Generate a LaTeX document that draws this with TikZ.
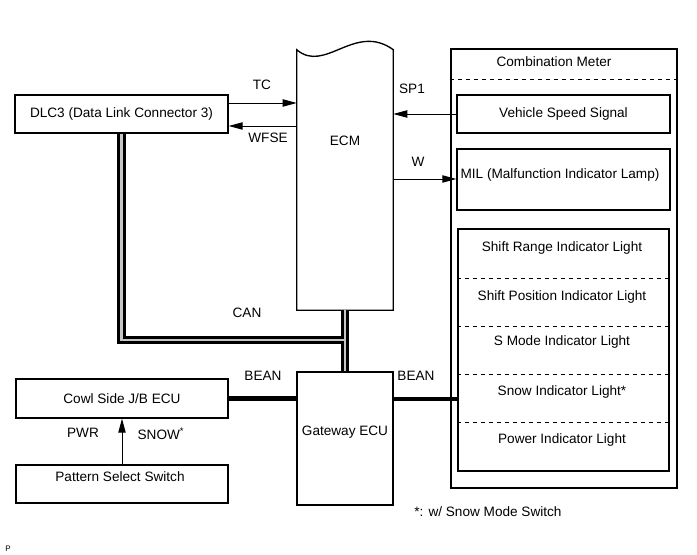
\documentclass[tikz,border=0pt]{standalone}
\usepackage{fontspec}
\setmainfont{Liberation Sans}
\usetikzlibrary{arrows.meta}

\def\px{0.75pt}
\tikzset{
  area/.style 2 args={minimum width=#1*\px, minimum height=#2*\px, inner sep=0pt},
  box/.style 2 args={area={#1}{#2}, draw, line width=1pt},
  sig/.style={line width=0.7pt, -{Triangle[length=10.5pt,width=5.5pt]}},
  bean/.style={line width=3.6pt},
  canout/.style={line width=6.5pt},
  canin/.style={line width=1.8pt, gray!45},
  sep/.style={dashed, line width=0.6pt},
}

\begin{document}
\begin{tikzpicture}[x=0.75pt, y=-0.75pt, font=\fontsize{10.2}{12}\selectfont]
  \useasboundingbox (0,0) rectangle (697,555);
  % left side
  \node[box={213}{38}] (dlc) at (121.5,114) {DLC3 (Data Link Connector 3)};
  \node[box={212}{39}] (cowl) at (122,398.5) {Cowl Side J/B ECU};
  \node[box={212}{38}] (pss) at (122,484) {};
  \node (psstxt) at (120,477) {Pattern Select Switch};
  % ECM and gateway
  \node[area={96}{260}] (ecm) at (345,180) {};
  \draw[line width=1pt] (ecm.south west) -- (ecm.north west)
    .. controls (325,74) and (355,22) .. (ecm.north east) -- (ecm.south east) -- cycle;
  \node (ecmtxt) at (345,141) {ECM};
  \node[box={96}{133}] (gw) at (345,438.5) {};
  \node (gwtxt) at (345,432) {Gateway ECU};
  % combination meter
  \node[box={226}{439}] (cm) at (564,268.5) {};
  \draw[sep] (cm.west |- 0,79) -- (cm.east |- 0,79);
  \node (cmtxt) at (554,62) {Combination Meter};
  \node[box={213}{38}] (vss) at (563.5,114) {Vehicle Speed Signal};
  \node[box={213}{61}] (mil) at (563.5,179.5) {};
  \node (miltxt) at (560,175) {MIL (Malfunction Indicator Lamp)};
  \node[box={211}{242}] (ind) at (563.5,350) {};
  \foreach \y in {278,326,374,422}
    \draw[sep] (ind.west |- 0,\y) -- (ind.east |- 0,\y);
  \foreach \y/\t [count=\i] in {248/Shift Range Indicator Light,
      297/Shift Position Indicator Light, 342/S Mode Indicator Light,
      392/Snow Indicator Light*, 440/Power Indicator Light}
    \node (lamp\i) at (562,\y) {\t};

  % signal lines
  \draw[sig] (dlc.east |- 0,103) -- (ecm.west |- 0,103);
  \draw[sig] (ecm.west |- 0,126) -- (dlc.east |- 0,126);
  \draw[sig] (vss.west) -- (vss.west -| ecm.east);
  \draw[sig] (ecm.east |- 0,179) -- (mil.west |- 0,179);
  \draw[sig] (pss.north) -- (cowl.south);
  \draw[bean] (cowl.east) -- (cowl.east -| gw.west);
  \draw[bean] (gw.east |- 0,399) -- (ind.west |- 0,399);
  % CAN bus
  \coordinate (canjn) at (345,340);
  \draw[canout] (dlc.south) |- (canjn);
  \draw[canout] (ecm.south) -- (gw.north);
  \draw[canin] (dlc.south) |- (canjn);
  \draw[canin] (ecm.south) -- (gw.north);

  % labels
  \node (tc) at (262,85) {TC};
  \node (wfse) at (268,138) {WFSE};
  \node (sp1) at (412,89) {SP1};
  \node (w) at (418,162) {W};
  \node (can) at (247,313) {CAN};
  \node (beanl) at (263,376) {BEAN};
  \node (beanr) at (416,376) {BEAN};
  \node (pwr) at (83,433) {PWR};
  \node (snow) at (161,434) {SNOW\textsuperscript{*}};
  \node (note) at (488,512) {*: w/ Snow Mode Switch};
  \node[font=\fontsize{6}{7}\selectfont] (pmark) at (8,549) {P};
\end{tikzpicture}
\end{document}
